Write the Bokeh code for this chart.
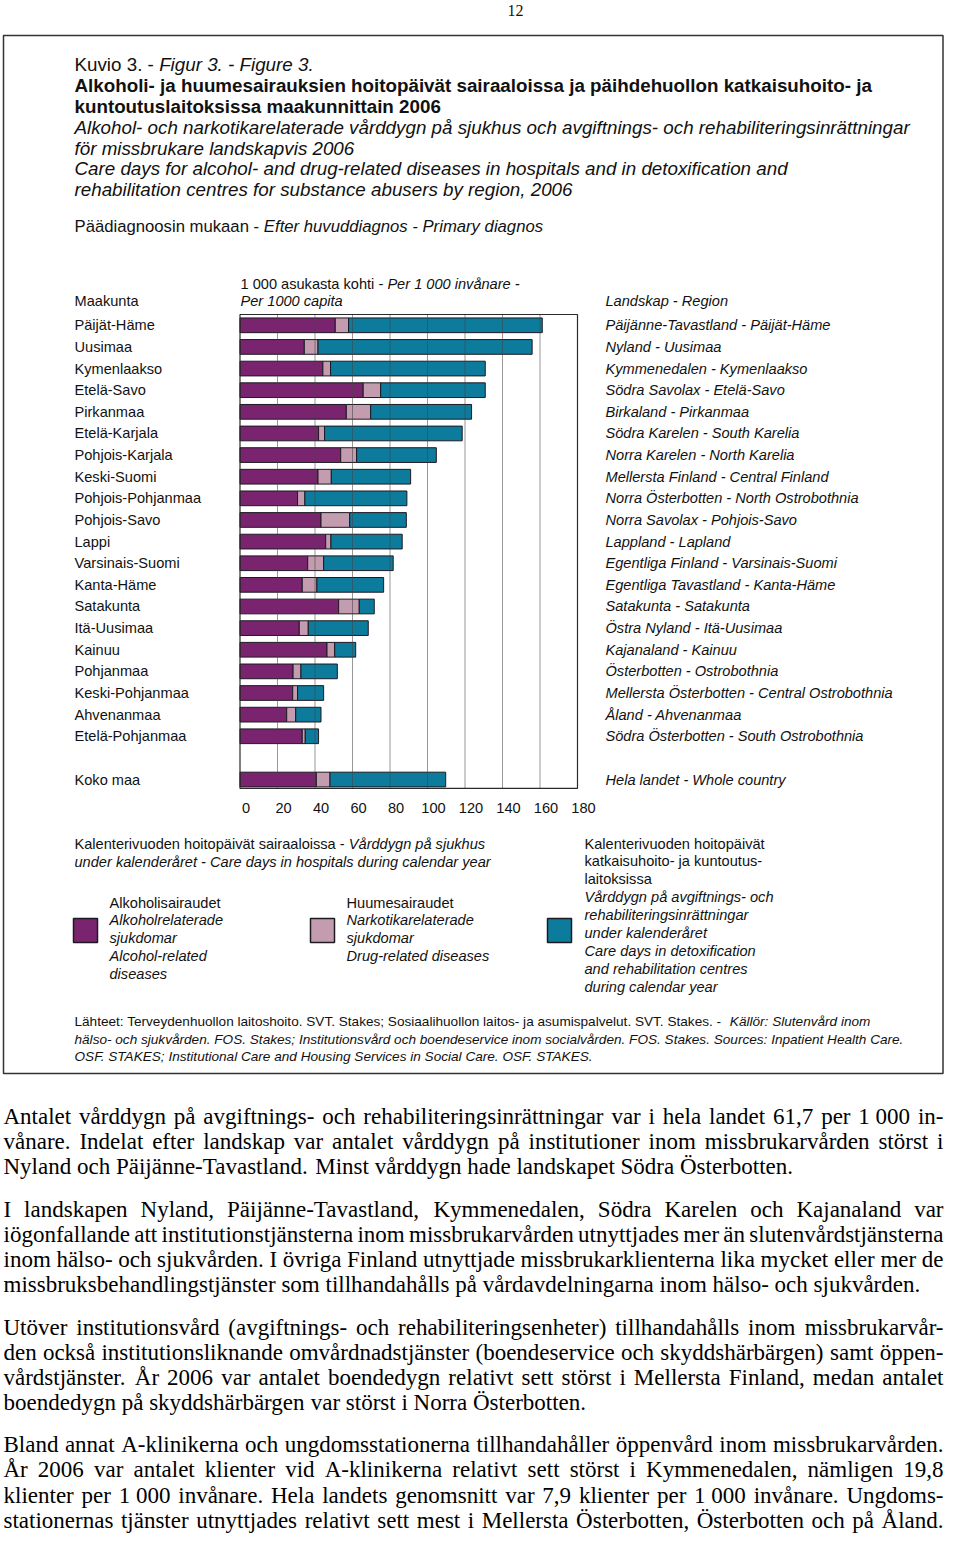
from bokeh.plotting import figure
from bokeh.models import Range1d, ColumnDataSource
from bokeh.core.properties import value
from bokeh.embed import file_html
from bokeh.resources import INLINE

# ---------------- data (care days per 1 000 inhabitants, 2006) ----------------
regions_fi = ["Päijät-Häme", "Uusimaa", "Kymenlaakso", "Etelä-Savo", "Pirkanmaa",
              "Etelä-Karjala", "Pohjois-Karjala", "Keski-Suomi", "Pohjois-Pohjanmaa",
              "Pohjois-Savo", "Lappi", "Varsinais-Suomi", "Kanta-Häme", "Satakunta",
              "Itä-Uusimaa", "Kainuu", "Pohjanmaa", "Keski-Pohjanmaa", "Ahvenanmaa",
              "Etelä-Pohjanmaa"]
regions_sv_en = ["Päijänne-Tavastland - Päijät-Häme", "Nyland - Uusimaa",
                 "Kymmenedalen - Kymenlaakso", "Södra Savolax - Etelä-Savo",
                 "Birkaland - Pirkanmaa", "Södra Karelen - South Karelia",
                 "Norra Karelen - North Karelia", "Mellersta Finland - Central Finland",
                 "Norra Österbotten - North Ostrobothnia", "Norra Savolax - Pohjois-Savo",
                 "Lappland - Lapland", "Egentliga Finland - Varsinais-Suomi",
                 "Egentliga Tavastland - Kanta-Häme", "Satakunta - Satakunta",
                 "Östra Nyland - Itä-Uusimaa", "Kajanaland - Kainuu",
                 "Österbotten - Ostrobothnia", "Mellersta Österbotten - Central Ostrobothnia",
                 "Åland - Ahvenanmaa", "Södra Österbotten - South Ostrobothnia"]
alcohol = [50.8, 34.3, 44.2, 65.7, 56.7, 41.9, 53.7, 41.6, 30.7, 43.2,
           45.7, 36.1, 33.2, 52.6, 31.6, 46.4, 28.3, 28.1, 24.9, 33.2]
drug = [7.1, 7.3, 4.1, 9.3, 13.0, 3.2, 8.5, 7.1, 3.9, 15.3,
        2.8, 8.5, 7.8, 11.0, 4.8, 4.1, 4.2, 2.6, 4.8, 1.6]
detox = [103.3, 114.2, 82.5, 55.8, 53.8, 73.4, 42.5, 42.3, 54.4, 30.2,
         38.0, 37.1, 35.6, 8.0, 32.0, 11.2, 19.4, 13.9, 13.5, 7.1]
whole_fi = "Koko maa"
whole_sv_en = "Hela landet - Whole country"
whole_alcohol, whole_drug, whole_detox = 40.7, 7.3, 61.7
x_ticks = [0, 20, 40, 60, 80, 100, 120, 140, 160, 180]

# ---------------- styles ----------------
SANS = "Liberation Sans"
SERIF = "Liberation Serif"
INK = "#111111"
PURPLE = "#7a2470"
PINK = "#c49cb0"
BLUE = "#0c7b9c"
EDGE = "#1e1a22"

# approximate advance widths (per 1000 em) for placing mixed-style runs
def _table(groups, default):
    d = {}
    for chars, w in groups:
        for c in chars:
            d[c] = w
    d["_"] = default
    return d

SANS_W = _table([("'", 191), ("ijl", 222), (" \u00a0,.:;!/ftI", 278), ("-()r", 333),
                 ("cksvxyzJ", 500), ("0123456789abdeghnopquäåöéL", 556), ("FTZ", 611),
                 ("ABEKPSVXYÄÅ", 667), ("CDHNRUw", 722), ("GOQÖ", 778), ("Mm", 833), ("W", 944)], 556)
BOLD_W = _table([(" \u00a0,.!/Iijl", 278), ("-():;ft", 333), ("r", 389), ("z", 500),
                 ("0123456789acekxsyvJäå", 556), ("bdghnopquLFTZö", 611), ("EPSVXY", 667),
                 ("ABCDHKNRUÄÅ", 722), ("GOQÖw", 778), ("M", 833), ("m", 889), ("W", 944)], 611)
SERIF_W = _table([(" \u00a0,.", 250), ("ijlt:;", 278), ("-()frI!", 333), ("sJ", 389),
                  ("acezäåé", 444), ("0123456789bdghknopquvxyö", 500), ("FPS", 556),
                  ("ELTZ", 611), ("BCR", 667), ("ADGHKNOQUVXYwÅÖÄ", 722), ("m", 778),
                  ("M", 889), ("W", 944)], 500)

def tw(txt, size, table):
    return sum(table.get(c, table["_"]) for c in txt) * size / 1000.0

# ---------------- figure: page coordinates in pixels from the top-left ----------------
WIDTH, HEIGHT = 944, 1534
p = figure(width=WIDTH, height=HEIGHT, x_range=Range1d(start=0, end=WIDTH),
           y_range=Range1d(start=HEIGHT, end=0), x_axis_type=None, y_axis_type=None,
           toolbar_location=None, output_backend="svg", min_border=0,
           outline_line_color=None, background_fill_color="white",
           border_fill_color="white")

PX_ZERO, PX_PER_UNIT = 239.5, 1.875
ROW_Y0, ROW_DY = 324.8, 21.63
p.extra_x_ranges = {"val": Range1d(start=(0 - PX_ZERO) / PX_PER_UNIT,
                                   end=(WIDTH - PX_ZERO) / PX_PER_UNIT)}
p.extra_y_ranges = {"row": Range1d(start=(HEIGHT - ROW_Y0) / ROW_DY,
                                   end=(0 - ROW_Y0) / ROW_DY)}


def put(x, y, txt, size, style="normal", font=SANS, align="left", color=INK, **kw):
    p.text(x=[x], y=[y], text=[txt], text_font=value(font), text_font_size=f"{size}px",
           text_font_style=style, text_align=align, text_baseline="middle",
           text_color=color, **kw)


def runs(x, y, parts, size):
    for txt, style in parts:
        put(x, y, txt, size, style)
        x += tw(txt, size, BOLD_W if "bold" in style else SANS_W)


# page number
put(515, 10, "12", 16, font=SERIF, align="center")

# outer frame of the figure box
p.quad(left=3, right=942.5, top=35, bottom=1073, fill_color=None,
       line_color="#333333", line_width=1.5)

# ---------------- titles ----------------
H = 18.8
runs(74, 64, [("Kuvio 3. - ", "normal"), ("Figur 3. - Figure 3.", "italic")], H)
put(74, 85, "Alkoholi- ja huumesairauksien hoitopäivät sairaaloissa ja päihdehuollon katkaisuhoito- ja", H, "bold")
put(74, 106, "kuntoutuslaitoksissa maakunnittain 2006", H, "bold")
put(74, 127, "Alkohol- och narkotikarelaterade vårddygn på sjukhus och avgiftnings- och rehabiliteringsinrättningar", H, "italic")
put(74, 148, "för missbrukare landskapvis 2006", H, "italic")
put(74, 168, "Care days for alcohol- and drug-related diseases in hospitals and in detoxification and", H, "italic")
put(74, 189, "rehabilitation centres for substance abusers by region, 2006", H, "italic")
runs(74, 226, [("Päädiagnoosin mukaan - ", "normal"),
               ("Efter huvuddiagnos - Primary diagnos", "italic")], 16.7)

S = 14.6
runs(240, 283, [("1 000 asukasta kohti - ", "normal"), ("Per 1 000 invånare -", "italic")], S)
put(240, 300, "Per 1000 capita", S, "italic")
put(74, 300, "Maakunta", S)
put(605, 300, "Landskap - Region", S, "italic")

# ---------------- bars ----------------
names_fi = regions_fi + [whole_fi]
names_sv = regions_sv_en + [whole_sv_en]
rows = list(range(len(regions_fi))) + [len(regions_fi) + 1]
a_all = alcohol + [whole_alcohol]
d_all = drug + [whole_drug]
t_all = detox + [whole_detox]
a_end = a_all
d_end = [a + d for a, d in zip(a_all, d_all)]
t_end = [e + t for e, t in zip(d_end, t_all)]
src = ColumnDataSource(dict(row=rows, zero=[0] * len(rows), a_end=a_end, d_end=d_end,
                            t_end=t_end, fi=names_fi, sv=names_sv))

BAR_H = 0.68
for left, right, col in (("zero", "a_end", PURPLE), ("a_end", "d_end", PINK),
                         ("d_end", "t_end", BLUE)):
    p.hbar(y="row", left=left, right=right, height=BAR_H, source=src,
           fill_color=col, line_color=EDGE, line_width=1,
           x_range_name="val", y_range_name="row")

top_row = -0.5
bottom_row = rows[-1] + 0.41
# gridlines drawn over the bars
p.segment(x0=x_ticks[1:-1], x1=x_ticks[1:-1], y0=top_row, y1=bottom_row,
          line_color="#444444", line_alpha=0.55, line_width=1,
          x_range_name="val", y_range_name="row")
# plot-area border
p.quad(left=x_ticks[0], right=x_ticks[-1], top=top_row, bottom=bottom_row,
       fill_color=None, line_color="#2a2a2a", line_width=1.2,
       x_range_name="val", y_range_name="row")

# region labels
p.text(x=74, y="row", text="fi", source=src, text_font=value(SANS),
       text_font_size=f"{S}px", text_baseline="middle", text_align="left",
       text_color=INK, y_range_name="row")
p.text(x=605, y="row", text="sv", source=src, text_font=value(SANS),
       text_font_size=f"{S}px", text_font_style="italic", text_baseline="middle",
       text_align="left", text_color=INK, y_range_name="row")

# tick labels
p.text(x=x_ticks, y=[807] * len(x_ticks), text=[str(t) for t in x_ticks],
       text_font=value(SANS), text_font_size=f"{S}px", text_baseline="middle",
       text_align="center", text_color=INK, x_offset=6, x_range_name="val")

# ---------------- legend ----------------
runs(74, 843, [("Kalenterivuoden hoitopäivät sairaaloissa - ", "normal"),
               ("Vårddygn på sjukhus", "italic")], S)
put(74, 861, "under kalenderåret - Care days in hospitals during calendar year", S, "italic")

for lx, col in ((73, PURPLE), (310, PINK), (547, BLUE)):
    p.quad(left=lx, right=lx + 24, top=918, bottom=942, fill_color=col,
           line_color=EDGE, line_width=1.5)

alk_lines = [("Alkoholisairaudet", "normal"), ("Alkoholrelaterade", "italic"),
             ("sjukdomar", "italic"), ("Alcohol-related", "italic"), ("diseases", "italic")]
for i, (t, st) in enumerate(alk_lines):
    put(109, 902 + i * 17.8, t, S, st)
drug_lines = [("Huumesairaudet", "normal"), ("Narkotikarelaterade", "italic"),
              ("sjukdomar", "italic"), ("Drug-related diseases", "italic")]
for i, (t, st) in enumerate(drug_lines):
    put(346, 902 + i * 17.8, t, S, st)
detox_lines = [("Kalenterivuoden hoitopäivät", "normal"), ("katkaisuhoito- ja kuntoutus-", "normal"),
               ("laitoksissa", "normal"), ("Vårddygn på avgiftnings- och", "italic"),
               ("rehabiliteringsinrättningar", "italic"), ("under kalenderåret", "italic"),
               ("Care days in detoxification", "italic"), ("and rehabilitation centres", "italic"),
               ("during calendar year", "italic")]
for i, (t, st) in enumerate(detox_lines):
    put(584, 843 + i * 17.9, t, S, st)

# ---------------- sources ----------------
F = 13.6
runs(74, 1021, [("Lähteet: Terveydenhuollon laitoshoito. SVT. Stakes; Sosiaalihuollon laitos- ja asumispalvelut. SVT. Stakes. - ", "normal"),
                ("Källör: Slutenvård inom", "italic")], F)
put(74, 1039, "hälso- och sjukvården. FOS. Stakes; Institutionsvård och boendeservice inom socialvården. FOS. Stakes. Sources: Inpatient Health Care.", F, "italic")
put(74, 1056, "OSF. STAKES; Institutional Care and Housing Services in Social Care. OSF. STAKES.", F, "italic")

# ---------------- body text (justified) ----------------
NB = "\u00a0"
paragraphs = [
    (False, [
        f"Antalet vårddygn på avgiftnings- och rehabiliteringsinrättningar var i hela landet 61,7 per 1{NB}000 in-",
        "vånare. Indelat efter landskap var antalet vårddygn på institutioner inom missbrukarvården störst i",
        "Nyland och Päijänne-Tavastland. Minst vårddygn hade landskapet Södra Österbotten."]),
    (False, [
        "I landskapen Nyland, Päijänne-Tavastland, Kymmenedalen, Södra Karelen och Kajanaland var",
        "iögonfallande att institutionstjänsterna inom missbrukarvården utnyttjades mer än slutenvårdstjänsterna",
        "inom hälso- och sjukvården. I övriga Finland utnyttjade missbrukarklienterna lika mycket eller mer de",
        "missbruksbehandlingstjänster som tillhandahålls på vårdavdelningarna inom hälso- och sjukvården."]),
    (False, [
        "Utöver institutionsvård (avgiftnings- och rehabiliteringsenheter) tillhandahålls inom missbrukarvår-",
        "den också institutionsliknande omvårdnadstjänster (boendeservice och skyddshärbärgen) samt öppen-",
        "vårdstjänster. År 2006 var antalet boendedygn relativt sett störst i Mellersta Finland, medan antalet",
        "boendedygn på skyddshärbärgen var störst i Norra Österbotten."]),
    (True, [
        "Bland annat A-klinikerna och ungdomsstationerna tillhandahåller öppenvård inom missbrukarvården.",
        "År 2006 var antalet klienter vid A-klinikerna relativt sett störst i Kymmenedalen, nämligen 19,8",
        f"klienter per 1{NB}000 invånare. Hela landets genomsnitt var 7,9 klienter per 1{NB}000 invånare. Ungdoms-",
        "stationernas tjänster utnyttjades relativt sett mest i Mellersta Österbotten, Österbotten och på Åland."]),
]
BODY = 23
BL, BR = 3, 943
BODY_TOP = 1116
LINE = 25.1
PARA_GAP = 42.5
lx, ly, lt, rx, ry, rt = [], [], [], [], [], []
y = BODY_TOP
for pi, (justify_last, lines) in enumerate(paragraphs):
    if pi > 0:
        y += PARA_GAP - LINE
    for j, line in enumerate(lines):
        words = line.split(" ")
        widths = [tw(w, BODY, SERIF_W) for w in words]
        justify = (j < len(lines) - 1) or justify_last
        if justify and len(words) > 1:
            gap = (BR - BL - sum(widths)) / (len(words) - 1)
        else:
            gap = tw(" ", BODY, SERIF_W)
        x = BL
        for k, (w, wd) in enumerate(zip(words, widths)):
            if justify and k == len(words) - 1 and k > 0:
                rx.append(BR); ry.append(y); rt.append(w)
            else:
                lx.append(x); ly.append(y); lt.append(w)
            x += wd + gap
        y += LINE

p.text(x=lx, y=ly, text=lt, text_font=value(SERIF), text_font_size=f"{BODY}px",
       text_baseline="middle", text_align="left", text_color="#000000")
p.text(x=rx, y=ry, text=rt, text_font=value(SERIF), text_font_size=f"{BODY}px",
       text_baseline="middle", text_align="right", text_color="#000000")

open("out.html", "w").write(file_html(p, INLINE))
